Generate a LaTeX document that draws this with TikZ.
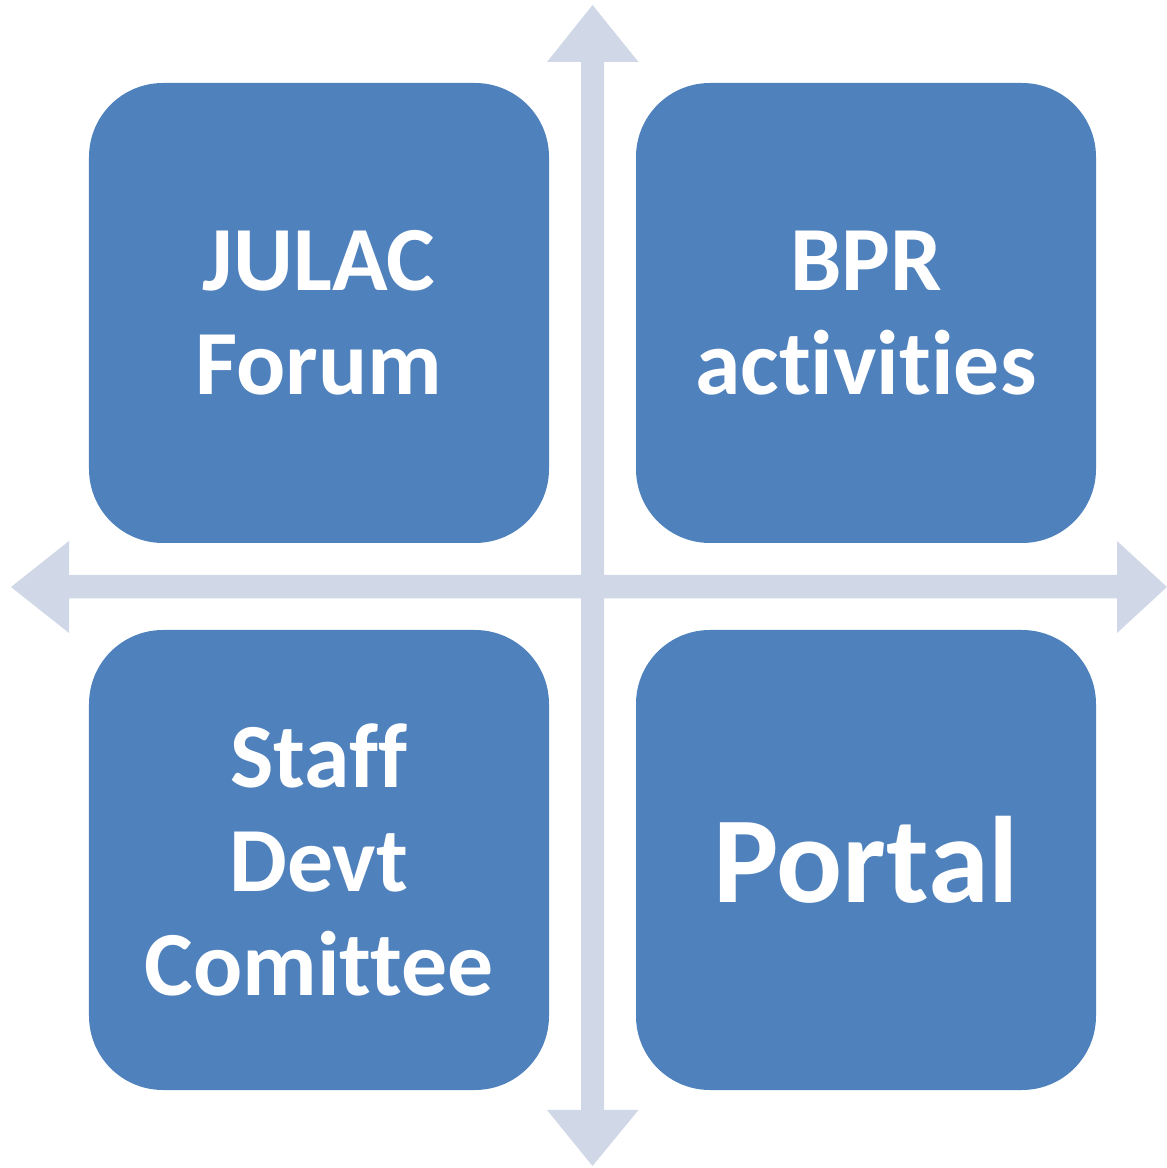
\documentclass[tikz,border=0pt]{standalone}
\usepackage{fontspec}
\setmainfont{Carlito}[Ligatures={NoCommon,NoDiscretionary,NoRare,NoContextual}]
\usetikzlibrary{positioning}
\definecolor{boxblue}{HTML}{4F81BD}
\definecolor{axisgrey}{HTML}{D0D8E8}
\tikzset{
  quadbox/.style={rectangle, fill=boxblue, rounded corners=0.74cm, minimum width=4.6cm, minimum height=4.6cm, inner sep=0pt, text=white, align=center, font=\bfseries\fontsize{26.1}{29.6}\selectfont},
  axisarrow/.style={fill=axisgrey}
}
\begin{document}
\begin{tikzpicture}
			%%%%% START %%%%%
			\useasboundingbox (0, 0) rectangle (11.67, 11.68);
			
			% horizontal axis
			\fill[axisarrow] (0.11, 5.81) -- (0.69, 6.27) -- (0.69, 5.93) -- (11.17, 5.93) -- (11.17, 6.27) -- (11.67, 5.81) -- (11.17, 5.35) -- (11.17, 5.695) -- (0.69, 5.695) -- (0.69, 5.35) -- cycle;
			
			% vertical axis
			\fill[axisarrow] (5.925, 11.63) -- (6.385, 11.06) -- (6.04, 11.06) -- (6.04, 0.58) -- (6.385, 0.58) -- (5.925, 0.02) -- (5.47, 0.58) -- (5.81, 0.58) -- (5.81, 11.06) -- (5.47, 11.06) -- cycle;
			
			\node[quadbox] (julac) at (3.19, 8.55) {JULAC\\Forum};
			\node[quadbox] (bpr) at (8.66, 8.55) {BPR\\activities};
			\node[quadbox] (staff) at (3.19, 3.08) {Staff\\Devt\\Comittee};
			\node[quadbox, font=\bfseries\fontsize{35}{40}\selectfont] (portal) at (8.66, 3.08) {Portal};
			
			%%%%% END %%%%%
\end{tikzpicture}
\end{document}
